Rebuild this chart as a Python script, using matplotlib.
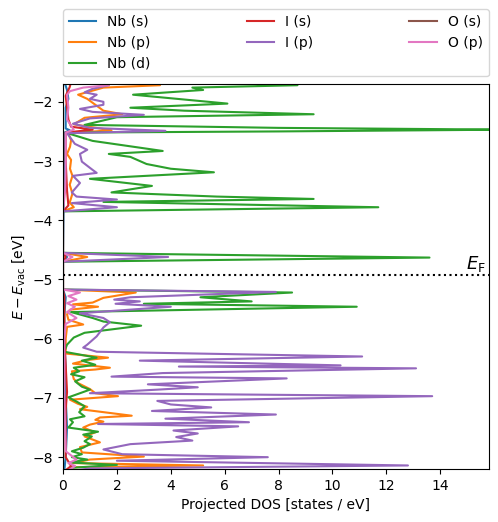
import matplotlib
matplotlib.use("Agg")
import matplotlib.pyplot as plt

# energies (eV, relative to vacuum) and projected DOS (states / eV) per orbital
nb_s_E = [-1.66, -1.80, -1.95, -2.10, -2.45, -2.48, -2.52, -3.00, -3.85, -4.55, -4.62, -4.70,
          -5.17, -5.30, -5.60, -6.00, -6.50, -7.00, -7.50, -8.00, -8.22]
nb_s = [0.05, 0.15, 0.2, 0.1, 0.1, 0.25, 0.05, 0.05, 0.02, 0.0, 0.15, 0.0,
        0.0, 0.1, 0.05, 0.05, 0.1, 0.1, 0.15, 0.1, 0.05]

nb_p_E = [-1.66, -1.72, -1.76, -1.88, -1.95, -2.05, -2.15, -2.21, -2.27, -2.38, -2.48, -2.53,
          -2.65, -2.76, -2.88, -2.98, -3.13, -3.25, -3.40, -3.55, -3.70, -3.78, -3.85,
          -4.55, -4.62, -4.70, -5.17, -5.22, -5.31, -5.39, -5.42, -5.46, -5.51, -5.59, -5.68,
          -5.76, -5.80, -6.00, -6.25, -6.32, -6.36, -6.42, -6.49, -6.52, -6.55, -6.68, -6.75,
          -6.85, -6.92, -6.97, -7.03, -7.10, -7.15, -7.19, -7.30, -7.33, -7.37, -7.40, -7.45,
          -7.50, -7.58, -7.65, -7.75, -7.83, -7.92, -7.99, -8.04, -8.10, -8.14, -8.17, -8.22]
nb_p = [2.0, 3.6, 1.5, 0.56, 0.9, 1.2, 1.5, 2.2, 0.8, 0.4, 1.8, 0.2,
        0.3, 0.26, 0.15, 0.3, 0.26, 0.35, 0.25, 0.35, 0.25, 0.4, 0.0,
        0.0, 0.9, 0.0, 0.0, 2.7, 1.5, 1.1, 0.37, 1.3, 0.26, 0.15, 0.2,
        0.75, 0.15, 0.1, 0.1, 1.67, 0.9, 0.37, 1.74, 1.2, 0.33, 0.4, 0.56,
        1.0, 1.2, 2.04, 0.26, 0.56, 0.9, 0.63, 2.55, 1.37, 1.2, 1.5, 1.0,
        0.75, 1.2, 0.8, 1.37, 0.63, 0.7, 3.0, 1.0, 0.37, 5.2, 0.3, 0.2]

nb_d_E = [-1.66, -1.72, -1.76, -1.80, -1.88, -2.03, -2.10, -2.15, -2.21, -2.26, -2.39, -2.44,
          -2.47, -2.50, -2.52, -2.66, -2.83, -2.88, -2.93, -3.05, -3.13, -3.19, -3.30, -3.42,
          -3.53, -3.60, -3.64, -3.69, -3.78, -3.85, -4.55, -4.63, -4.70, -5.17, -5.22, -5.30,
          -5.37, -5.41, -5.46, -5.55, -5.65, -5.71, -5.78, -5.90, -5.98, -6.10, -6.22, -6.32,
          -6.37, -6.44, -6.49, -6.55, -6.60, -6.65, -6.72, -6.81, -6.86, -6.99, -7.06, -7.14,
          -7.24, -7.31, -7.36, -7.41, -7.50, -7.57, -7.62, -7.65, -7.73, -7.78, -7.84, -7.90,
          -7.95, -8.00, -8.04, -8.09, -8.13, -8.18, -8.22]
nb_d = [4.3, 8.7, 4.8, 5.2, 2.6, 6.1, 2.5, 4.5, 9.3, 2.0, 0.8, 8.0,
        16.5, 8.0, 0.1, 1.1, 3.7, 1.7, 2.5, 3.1, 4.0, 5.6, 1.0, 3.3,
        1.8, 5.7, 9.3, 1.5, 11.7, 0.0, 0.0, 13.6, 0.0, 0.0, 8.5, 5.1,
        7.0, 3.0, 10.9, 0.3, 1.1, 1.5, 2.9, 0.8, 0.4, 0.15, 0.05, 1.25,
        0.7, 1.2, 0.4, 0.6, 0.3, 0.8, 0.45, 0.7, 1.0, 0.2, 0.5, 0.8,
        0.6, 0.8, 0.26, 0.37, 0.2, 1.3, 0.75, 1.07, 0.8, 1.0, 0.75, 0.33,
        0.7, 0.33, 0.9, 0.26, 2.0, 0.3, 0.2]

i_s_E = [-1.66, -1.75, -1.90, -2.10, -2.30, -2.42, -2.47, -2.52, -3.00, -3.50, -3.75, -3.85,
         -4.55, -4.62, -4.70, -5.17, -5.30, -6.00, -6.90, -7.20, -8.00, -8.15, -8.22]
i_s = [0.3, 0.25, 0.1, 0.15, 0.2, 0.3, 1.1, 0.1, 0.1, 0.15, 0.2, 0.0,
       0.0, 0.1, 0.0, 0.0, 0.05, 0.05, 0.15, 0.1, 0.1, 0.3, 0.1]

i_p_E = [-1.66, -1.72, -1.78, -1.84, -1.88, -1.95, -2.00, -2.05, -2.12, -2.17, -2.22, -2.28,
         -2.37, -2.44, -2.49, -2.53, -2.71, -2.81, -2.88, -3.01, -3.15, -3.20, -3.25, -3.37,
         -3.53, -3.60, -3.65, -3.71, -3.78, -3.85, -4.55, -4.62, -4.70, -5.17, -5.21, -5.30,
         -5.34, -5.37, -5.41, -5.46, -5.57, -5.65, -5.72, -5.81, -5.96, -6.10, -6.15, -6.22,
         -6.30, -6.37, -6.45, -6.47, -6.50, -6.58, -6.64, -6.67, -6.77, -6.82, -6.86, -6.92,
         -6.97, -7.05, -7.11, -7.16, -7.22, -7.28, -7.35, -7.41, -7.44, -7.48, -7.55, -7.60,
         -7.66, -7.72, -7.78, -7.87, -7.95, -8.00, -8.06, -8.14, -8.19, -8.22]
i_p = [1.2, 1.7, 1.1, 0.8, 1.25, 1.0, 1.5, 1.5, 0.63, 1.1, 3.0, 1.0,
       0.37, 1.0, 3.8, 0.15, 0.44, 0.9, 0.63, 0.7, 1.1, 1.25, 0.37, 0.63,
       0.33, 0.5, 2.0, 0.33, 2.0, 0.0, 0.0, 3.9, 0.0, 0.0, 7.9, 2.5,
       1.9, 2.85, 1.95, 4.0, 0.63, 1.5, 1.74, 1.5, 1.25, 0.9, 0.75, 1.25,
       11.1, 2.85, 10.3, 4.3, 13.1, 3.7, 1.8, 8.3, 3.15, 5.0, 3.5, 1.0,
       13.7, 3.5, 4.0, 5.5, 3.3, 7.9, 3.8, 6.9, 1.3, 6.5, 4.1, 5.0,
       4.2, 4.8, 2.5, 1.5, 2.2, 7.6, 2.0, 12.8, 1.0, 0.5]

o_s_E = [-1.66, -8.22]
o_s = [0.0, 0.0]

o_p_E = [-1.66, -1.72, -1.76, -1.82, -1.88, -2.10, -2.30, -2.47, -2.52, -3.00, -3.50, -3.85,
         -4.55, -4.62, -4.70, -5.17, -5.22, -5.28, -5.34, -5.40, -5.46, -5.55, -5.65, -5.75,
         -6.00, -7.00, -7.90, -8.04, -8.10, -8.15, -8.22]
o_p = [1.5, 1.7, 0.75, 0.26, 0.15, 0.2, 0.15, 0.4, 0.1, 0.1, 0.08, 0.0,
       0.0, 0.35, 0.0, 0.0, 0.63, 0.2, 0.5, 0.15, 0.44, 0.15, 0.5, 0.1,
       0.05, 0.05, 0.1, 0.5, 0.2, 0.45, 0.2]

e_fermi = -4.93

fig = plt.figure(figsize=(4.98, 5.22), dpi=100)
ax = fig.add_axes([0.1265, 0.1015, 0.855, 0.7375])

ax.plot(nb_s, nb_s_E, label="Nb (s)", color="tab:blue")
ax.plot(nb_p, nb_p_E, label="Nb (p)", color="tab:orange")
ax.plot(nb_d, nb_d_E, label="Nb (d)", color="tab:green")
ax.plot(i_s, i_s_E, label="I (s)", color="tab:red")
ax.plot(i_p, i_p_E, label="I (p)", color="tab:purple")
ax.plot(o_s, o_s_E, label="O (s)", color="tab:brown")
ax.plot(o_p, o_p_E, label="O (p)", color="tab:pink")

ax.axhline(e_fermi, color="k", ls=":")
ax.text(15.7, e_fermi + 0.02, r"$E_\mathrm{F}$", ha="right", va="bottom", fontsize=13)

ax.set_xlim(0, 15.8)
ax.set_ylim(-8.2, -1.7)
ax.set_xlabel("Projected DOS [states / eV]")
ax.set_ylabel(r"$E - E_\mathrm{vac}$ [eV]")
ax.legend(loc="lower left", bbox_to_anchor=(0, 1.02, 1, 0.2), mode="expand",
          ncol=3, borderaxespad=0)

fig.savefig("out.png", dpi=100)
